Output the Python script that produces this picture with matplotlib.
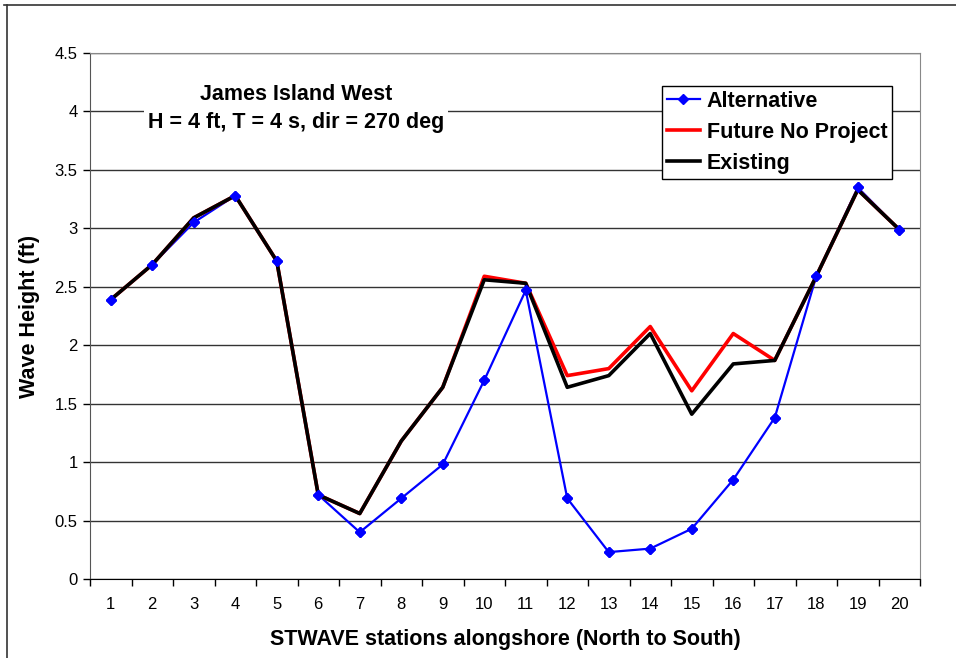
import numpy as np
import matplotlib
matplotlib.use("Agg")
import matplotlib.pyplot as plt
from matplotlib.lines import Line2D

plt.rcParams['font.family'] = ['Liberation Sans', 'DejaVu Sans']

# Data
stations = np.arange(1, 21)
alternative = [2.39, 2.69, 3.05, 3.28, 2.72, 0.72, 0.40, 0.69, 0.98, 1.70,
               2.47, 0.69, 0.23, 0.26, 0.43, 0.85, 1.38, 2.59, 3.35, 2.99]
future_no_project = [2.39, 2.69, 3.09, 3.28, 2.72, 0.72, 0.56, 1.18, 1.64, 2.59,
                     2.53, 1.74, 1.80, 2.16, 1.61, 2.10, 1.87, 2.59, 3.33, 2.99]
existing = [2.39, 2.69, 3.09, 3.28, 2.72, 0.72, 0.56, 1.18, 1.64, 2.56,
            2.53, 1.64, 1.74, 2.10, 1.41, 1.84, 1.87, 2.59, 3.33, 2.99]
y_ticks = np.arange(0, 4.51, 0.5)
y_labels = ['0', '0.5', '1', '1.5', '2', '2.5', '3', '3.5', '4', '4.5']

fig = plt.figure(figsize=(9.56, 6.58), dpi=100)
ax = fig.add_axes([90 / 956, 1 - 579 / 658, 830 / 956, 526 / 658])

# Outer chart frame (top and left edges only visible)
fig.add_artist(Line2D([4 / 956, 1], [1 - 5 / 658, 1 - 5 / 658], color='#333333', lw=1.2))
fig.add_artist(Line2D([7 / 956, 7 / 956], [0, 1 - 5 / 658], color='#333333', lw=1.2))

# Lines
ax.plot(stations, alternative, color='#0000ff', lw=1.6, zorder=3,
        marker='D', ms=5.5, mfc='#0000ff', mec='#0000ff', label='Alternative')
ax.plot(stations, future_no_project, color='#ff0000', lw=2.6, zorder=4,
        label='Future No Project')
ax.plot(stations, existing, color='black', lw=2.6, zorder=5, label='Existing')
# markers on top of the thick lines
ax.plot(stations, alternative, ls='none', marker='D', ms=5.5,
        color='#0000ff', zorder=6)

ax.set_xlim(0.5, 20.5)
ax.set_ylim(0, 4.5)
ax.set_yticks(y_ticks)
ax.set_yticklabels(y_labels)
ax.set_xticks(stations)
ax.set_xticklabels([str(s) for s in stations])
ax.set_xticks(np.arange(0.5, 20.6, 1), minor=True)
ax.tick_params(axis='x', which='major', length=0, pad=13, labelsize=12)
ax.tick_params(axis='x', which='minor', length=5, width=1, direction='out')
ax.tick_params(axis='y', length=5, width=1, direction='out', pad=4, labelsize=12)

ax.yaxis.grid(True, color='#333333', lw=1)
ax.set_axisbelow(True)
for side in ['top', 'right']:
    ax.spines[side].set_color('#888888')
ax.spines['left'].set_color('#555555')
ax.spines['bottom'].set_color('black')

ax.set_xlabel('STWAVE stations alongshore (North to South)', fontsize=15.5,
              fontweight='bold', labelpad=12)
ax.set_ylabel('Wave Height (ft)', fontsize=15.5, fontweight='bold', labelpad=10)

ax.text(206 / 830, 1 - 55.5 / 526, 'James Island West\nH = 4 ft, T = 4 s, dir = 270 deg',
        transform=ax.transAxes, ha='center', va='center', fontsize=15.5,
        fontweight='bold', linespacing=1.38,
        bbox=dict(facecolor='white', edgecolor='none', pad=3), zorder=7)

leg = ax.legend(loc='upper left', bbox_to_anchor=(572 / 830, 1 - 33 / 526),
                prop={'weight': 'bold', 'size': 15.5}, frameon=True, fancybox=False,
                edgecolor='black', framealpha=1, borderaxespad=0,
                handlelength=1.55, handletextpad=0.3, labelspacing=0.47,
                borderpad=0.22)
leg.get_frame().set_linewidth(1)
leg.set_zorder(8)

fig.savefig('out.png', dpi=100)
